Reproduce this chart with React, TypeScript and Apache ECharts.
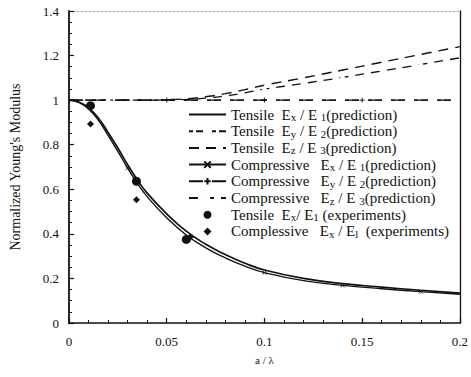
import { useEffect, useRef } from "react";
import * as echarts from "echarts";

// ---- data ----
const xCurve = [0, 0.005, 0.01, 0.015, 0.02, 0.025, 0.03, 0.035, 0.04, 0.05, 0.06, 0.07, 0.08, 0.09, 0.1, 0.12, 0.14, 0.16, 0.18, 0.2];
const tensileEx = [1, 0.992, 0.965, 0.92, 0.855, 0.785, 0.71, 0.642, 0.583, 0.49, 0.412, 0.353, 0.307, 0.268, 0.238, 0.2, 0.177, 0.161, 0.147, 0.134];
const compressiveEx = [1, 0.99, 0.96, 0.91, 0.842, 0.77, 0.695, 0.626, 0.567, 0.472, 0.395, 0.337, 0.292, 0.255, 0.226, 0.19, 0.169, 0.154, 0.141, 0.129];

const xRise = [0, 0.02, 0.04, 0.05, 0.06, 0.07, 0.08, 0.09, 0.1, 0.12, 0.14, 0.16, 0.18, 0.2];
const tensileEz = [1, 1, 1, 1.002, 1.006, 1.015, 1.029, 1.047, 1.067, 1.1, 1.135, 1.17, 1.205, 1.24];
const compressiveEz = [1, 1, 1, 1.001, 1.003, 1.009, 1.019, 1.033, 1.049, 1.075, 1.102, 1.131, 1.16, 1.19];

const xFlat = [0, 0.02, 0.05, 0.1, 0.15, 0.2];
const tensileEy = [1, 1, 1, 1, 1, 1];
const compressiveEy = [1, 1, 1, 1, 1, 1];

const xExpTensile = [0.011, 0.0345, 0.06];
const tensileExp = [0.975, 0.636, 0.375];
const xExpCompressive = [0.011, 0.0345, 0.062];
const compressiveExp = [0.893, 0.553, 0.386];

// points of each prediction curve that carry a marker
const markCompressiveEx = [0.03, 0.1, 0.14, 0.18];
const markCompressiveEy = [0.05, 0.1, 0.15];
const markCompressiveEz = [0.02, 0.1, 0.14, 0.18];

const xTicks = [0, 0.05, 0.1, 0.15, 0.2];
const yTicks = [0, 0.2, 0.4, 0.6, 0.8, 1, 1.2, 1.4];

const seriesNames = [
  "Tensile Ex/E1 (prediction)",
  "Tensile Ey/E2 (prediction)",
  "Tensile Ez/E3 (prediction)",
  "Compressive Ex/E1 (prediction)",
  "Compressive Ey/E2 (prediction)",
  "Compressive Ez/E3 (prediction)",
  "Tensile Ex/E1 (experiments)",
  "Complessive Ex/E1 (experiments)",
];

const legendRich: Record<string, string> = {
  [seriesNames[0]]: "{t|Tensile  E}{s|x}{t| / E }{s|1}{t|(prediction)}",
  [seriesNames[1]]: "{t|Tensile  E}{s|y}{t| / E }{s|2}{t|(prediction)}",
  [seriesNames[2]]: "{t|Tensile  E}{s|z}{t| / E }{s|3}{t|(prediction)}",
  [seriesNames[3]]: "{t|Compressive   E}{s|x}{t| / E }{s|1}{t|(prediction)}",
  [seriesNames[4]]: "{t|Compressive   E}{s|y}{t| / E }{s|2}{t|(prediction)}",
  [seriesNames[5]]: "{t|Compressive   E}{s|z}{t| / E }{s|3}{t|(prediction)}",
  [seriesNames[6]]: "{t|Tensile  E}{s|x}{t|/ E}{s|1}{t| (experiments)}",
  [seriesNames[7]]: "{t|Complessive   E}{s|x}{t| / E}{s|l}{t|  (experiments)}",
};

const FONT = "'Liberation Serif', 'DejaVu Serif', serif";
const INK = "#111";
const X_MARK = "path://M0,0L10,10M10,0L0,10";
const PLUS_MARK = "path://M5,0L5,10M0,5L10,5";
const DIAMOND = "path://M5,0L10,5L5,10L0,5Z";
const HIDDEN = { opacity: 0 };

function pts(xs: number[], ys: number[], marks: number[] = [], symbol = "none") {
  return xs.map((x, i) => ({
    value: [x, ys[i]],
    symbol: marks.includes(x) ? symbol : "none",
  }));
}

export default function App() {
  const ref = useRef<HTMLDivElement>(null);
  useEffect(() => {
    if (!ref.current) return;
    const chart = echarts.init(ref.current, undefined, { renderer: "svg" });
    const markStyle = { color: INK, borderColor: INK, borderWidth: 0.9 };
    chart.setOption({
      animation: false,
      backgroundColor: "#fff",
      textStyle: { fontFamily: FONT, color: INK },
      grid: { left: 69, right: 10, top: 11, bottom: 54 },
      xAxis: [
        {
          type: "value",
          min: 0,
          max: 0.2,
          interval: 0.05,
          name: "a / λ",
          nameLocation: "middle",
          nameGap: 31,
          nameTextStyle: { fontFamily: FONT, fontSize: 11, color: INK },
          axisLine: { show: true, onZero: false, lineStyle: { color: INK, width: 1.5 } },
          axisTick: { show: true, inside: true, length: 5, lineStyle: { color: INK, width: 1.2 } },
          minorTick: { show: true, splitNumber: 5, length: 3, lineStyle: { color: INK, width: 1 } },
          axisLabel: {
            margin: 12,
            fontFamily: FONT,
            fontSize: 13,
            color: INK,
            formatter: (v: number) => (xTicks.includes(+v.toFixed(3)) ? String(+v.toFixed(3)) : ""),
          },
          splitLine: { show: false },
        },
        {
          type: "value",
          position: "top",
          min: 0,
          max: 0.2,
          interval: 0.05,
          axisLine: { show: true, onZero: false, lineStyle: { color: "#aaa", width: 1, type: [2, 2] } },
          axisTick: { show: false },
          axisLabel: { show: false },
          splitLine: { show: false },
        },
      ],
      yAxis: [
        {
          type: "value",
          min: 0,
          max: 1.4,
          interval: 0.2,
          name: "Normalized Young's Modulus",
          nameLocation: "middle",
          nameGap: 47,
          nameTextStyle: { fontFamily: FONT, fontSize: 14, color: INK },
          axisLine: { show: true, onZero: false, lineStyle: { color: INK, width: 1.8 } },
          axisTick: { show: true, inside: true, length: 5, lineStyle: { color: INK, width: 1.2 } },
          minorTick: { show: true, splitNumber: 4, length: 3, lineStyle: { color: INK, width: 1 } },
          axisLabel: {
            margin: 10,
            fontFamily: FONT,
            fontSize: 13,
            color: INK,
            formatter: (v: number) => (yTicks.includes(+v.toFixed(2)) ? String(+v.toFixed(2)) : ""),
          },
          splitLine: { show: false },
        },
        {
          type: "value",
          position: "right",
          min: 0,
          max: 1.4,
          interval: 0.2,
          axisLine: { show: true, onZero: false, lineStyle: { color: INK, width: 1.3 } },
          axisTick: { show: false },
          axisLabel: { show: false },
          splitLine: { show: false },
        },
      ],
      legend: {
        orient: "vertical",
        left: 188,
        top: 107,
        padding: 0,
        itemWidth: 37,
        itemHeight: 8,
        itemGap: 1.2,
        data: [
          { name: seriesNames[0], itemStyle: HIDDEN },
          { name: seriesNames[1], itemStyle: HIDDEN },
          { name: seriesNames[2], itemStyle: HIDDEN },
          { name: seriesNames[3] },
          { name: seriesNames[4] },
          { name: seriesNames[5] },
          { name: seriesNames[6], icon: "circle", itemStyle: { color: INK, opacity: 1 } },
          { name: seriesNames[7], icon: DIAMOND, itemStyle: { color: INK, opacity: 1 } },
        ],
        formatter: (name: string) => legendRich[name] ?? name,
        textStyle: {
          fontFamily: FONT,
          color: INK,
          rich: {
            t: { fontFamily: FONT, fontSize: 15, lineHeight: 16, color: INK },
            s: { fontFamily: FONT, fontSize: 11, lineHeight: 10, verticalAlign: "bottom", color: INK },
          },
        },
      },
      series: [
        {
          name: seriesNames[0],
          type: "line",
          smooth: true,
          symbol: "none",
          data: pts(xCurve, tensileEx),
          lineStyle: { color: INK, width: 1.7 },
          itemStyle: { color: INK },
        },
        {
          name: seriesNames[1],
          type: "line",
          symbol: "none",
          data: pts(xFlat, tensileEy),
          lineStyle: { color: INK, width: 1.2, type: [4, 3, 7, 9] },
          itemStyle: { color: INK },
        },
        {
          name: seriesNames[2],
          type: "line",
          smooth: true,
          symbol: "none",
          data: pts(xRise, tensileEz),
          lineStyle: { color: INK, width: 1.4, type: [10, 7] },
          itemStyle: { color: INK },
        },
        {
          name: seriesNames[3],
          type: "line",
          smooth: true,
          symbol: X_MARK,
          symbolSize: 4,
          data: pts(xCurve, compressiveEx, markCompressiveEx, X_MARK),
          lineStyle: { color: INK, width: 1.4 },
          itemStyle: markStyle,
        },
        {
          name: seriesNames[4],
          type: "line",
          symbol: PLUS_MARK,
          symbolSize: 5,
          data: pts(xFlat, compressiveEy, markCompressiveEy, PLUS_MARK),
          lineStyle: { color: INK, width: 1.3, type: [14, 9] },
          itemStyle: markStyle,
        },
        {
          name: seriesNames[5],
          type: "line",
          smooth: true,
          symbol: "emptyTriangle",
          symbolSize: 5,
          data: pts(xRise, compressiveEz, markCompressiveEz, "emptyTriangle"),
          lineStyle: { color: INK, width: 1.3, type: [9, 7] },
          itemStyle: { color: "#fff", borderColor: INK, borderWidth: 0.8 },
        },
        {
          name: seriesNames[6],
          type: "scatter",
          symbol: "circle",
          symbolSize: 9,
          data: xExpTensile.map((x, i) => [x, tensileExp[i]]),
          itemStyle: { color: INK, opacity: 1 },
          z: 5,
        },
        {
          name: seriesNames[7],
          type: "scatter",
          symbol: DIAMOND,
          symbolSize: 7,
          data: xExpCompressive.map((x, i) => [x, compressiveExp[i]]),
          itemStyle: { color: INK, opacity: 1 },
          z: 5,
        },
      ],
    });
    return () => chart.dispose();
  }, []);
  return <div ref={ref} style={{ width: 471, height: 377, position: "fixed", left: 0, top: 0 }} />;
}
